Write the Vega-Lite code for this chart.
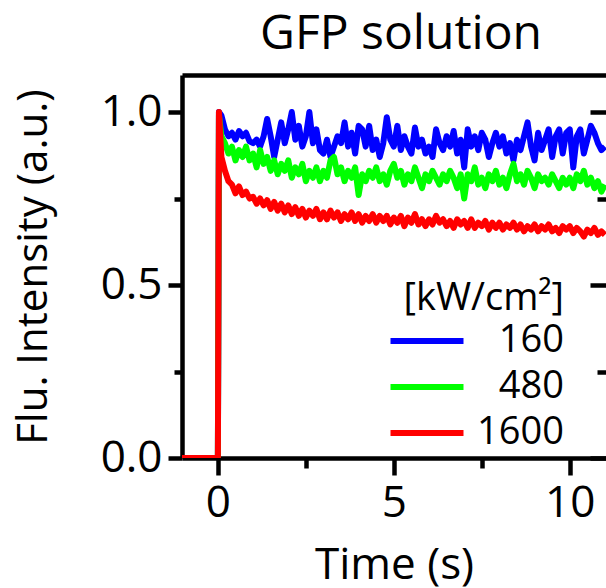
{
"$schema": "https://vega.github.io/schema/vega-lite/v6.json",
"width": 424, "height": 383,
"autosize": {"type": "none"},
"padding": {"left": 182, "top": 75, "right": 0, "bottom": 130},
"background": "white",
"title": {"text": "GFP solution", "fontSize": 48, "font": "Open Sans", "fontWeight": "normal", "color": "black", "anchor": "middle", "baseline": "alphabetic", "offset": 22, "dy": 44, "dx": 7},
"config": {"view": {"stroke": null}, "font": "Open Sans"},
"data": {"values": [
{"t":-1.1,"I":0,"P":"160"},{"t":0,"I":0,"P":"160"},{"t":0.03,"I":1.0,"P":"160"},
{"t":0.1,"I":0.99,"P":"160"},{"t":0.2,"I":0.95,"P":"160"},{"t":0.3,"I":0.93,"P":"160"},{"t":0.4,"I":0.94,"P":"160"},{"t":0.5,"I":0.92,"P":"160"},{"t":0.6,"I":0.945,"P":"160"},{"t":0.7,"I":0.93,"P":"160"},{"t":0.8,"I":0.94,"P":"160"},{"t":0.9,"I":0.915,"P":"160"},{"t":1.0,"I":0.91,"P":"160"},
{"t":1.1,"I":0.92,"P":"160"},{"t":1.2,"I":0.90,"P":"160"},{"t":1.3,"I":0.93,"P":"160"},{"t":1.4,"I":0.98,"P":"160"},{"t":1.5,"I":0.93,"P":"160"},{"t":1.6,"I":0.87,"P":"160"},{"t":1.7,"I":0.92,"P":"160"},{"t":1.8,"I":0.97,"P":"160"},{"t":1.9,"I":0.91,"P":"160"},{"t":2.0,"I":0.95,"P":"160"},
{"t":2.1,"I":1.0,"P":"160"},{"t":2.2,"I":0.92,"P":"160"},{"t":2.3,"I":0.96,"P":"160"},{"t":2.4,"I":0.90,"P":"160"},{"t":2.5,"I":0.93,"P":"160"},{"t":2.6,"I":1.0,"P":"160"},{"t":2.7,"I":0.91,"P":"160"},{"t":2.8,"I":0.95,"P":"160"},{"t":2.9,"I":0.89,"P":"160"},{"t":3.0,"I":0.88,"P":"160"},
{"t":3.1,"I":0.92,"P":"160"},{"t":3.2,"I":0.87,"P":"160"},{"t":3.3,"I":0.90,"P":"160"},{"t":3.4,"I":0.93,"P":"160"},{"t":3.5,"I":0.91,"P":"160"},{"t":3.6,"I":0.97,"P":"160"},{"t":3.7,"I":0.90,"P":"160"},{"t":3.8,"I":0.94,"P":"160"},{"t":3.9,"I":0.88,"P":"160"},{"t":4.0,"I":0.96,"P":"160"},
{"t":4.1,"I":0.95,"P":"160"},{"t":4.2,"I":0.90,"P":"160"},{"t":4.3,"I":0.96,"P":"160"},{"t":4.4,"I":0.89,"P":"160"},{"t":4.5,"I":0.92,"P":"160"},{"t":4.6,"I":0.87,"P":"160"},{"t":4.7,"I":0.91,"P":"160"},{"t":4.8,"I":0.985,"P":"160"},{"t":4.9,"I":0.92,"P":"160"},{"t":5.0,"I":0.90,"P":"160"},
{"t":5.1,"I":0.96,"P":"160"},{"t":5.2,"I":0.89,"P":"160"},{"t":5.3,"I":0.93,"P":"160"},{"t":5.4,"I":0.90,"P":"160"},{"t":5.5,"I":0.88,"P":"160"},{"t":5.6,"I":0.955,"P":"160"},{"t":5.7,"I":0.90,"P":"160"},{"t":5.8,"I":0.92,"P":"160"},{"t":5.9,"I":0.88,"P":"160"},{"t":6.0,"I":0.90,"P":"160"},
{"t":6.1,"I":0.87,"P":"160"},{"t":6.2,"I":0.95,"P":"160"},{"t":6.3,"I":0.91,"P":"160"},{"t":6.4,"I":0.89,"P":"160"},{"t":6.5,"I":0.93,"P":"160"},{"t":6.6,"I":0.90,"P":"160"},{"t":6.7,"I":0.945,"P":"160"},{"t":6.8,"I":0.88,"P":"160"},{"t":6.9,"I":0.92,"P":"160"},{"t":7.0,"I":0.84,"P":"160"},
{"t":7.1,"I":0.95,"P":"160"},{"t":7.2,"I":0.90,"P":"160"},{"t":7.3,"I":0.93,"P":"160"},{"t":7.4,"I":0.89,"P":"160"},{"t":7.5,"I":0.94,"P":"160"},{"t":7.6,"I":0.92,"P":"160"},{"t":7.7,"I":0.87,"P":"160"},{"t":7.8,"I":0.91,"P":"160"},{"t":7.9,"I":0.94,"P":"160"},{"t":8.0,"I":0.90,"P":"160"},
{"t":8.1,"I":0.93,"P":"160"},{"t":8.2,"I":0.88,"P":"160"},{"t":8.3,"I":0.91,"P":"160"},{"t":8.4,"I":0.86,"P":"160"},{"t":8.5,"I":0.92,"P":"160"},{"t":8.6,"I":0.89,"P":"160"},{"t":8.7,"I":0.93,"P":"160"},{"t":8.8,"I":0.97,"P":"160"},{"t":8.9,"I":0.90,"P":"160"},{"t":9.0,"I":0.86,"P":"160"},
{"t":9.1,"I":0.94,"P":"160"},{"t":9.2,"I":0.89,"P":"160"},{"t":9.3,"I":0.92,"P":"160"},{"t":9.4,"I":0.95,"P":"160"},{"t":9.5,"I":0.87,"P":"160"},{"t":9.6,"I":0.93,"P":"160"},{"t":9.7,"I":0.95,"P":"160"},{"t":9.8,"I":0.88,"P":"160"},{"t":9.9,"I":0.94,"P":"160"},{"t":10.0,"I":0.95,"P":"160"},
{"t":10.1,"I":0.84,"P":"160"},{"t":10.2,"I":0.93,"P":"160"},{"t":10.3,"I":0.95,"P":"160"},{"t":10.4,"I":0.88,"P":"160"},{"t":10.5,"I":0.92,"P":"160"},{"t":10.6,"I":0.96,"P":"160"},{"t":10.7,"I":0.94,"P":"160"},{"t":10.8,"I":0.91,"P":"160"},{"t":10.9,"I":0.89,"P":"160"},{"t":11.0,"I":0.90,"P":"160"},
{"t":-1.1,"I":0,"P":"480"},{"t":0,"I":0,"P":"480"},{"t":0.03,"I":0.99,"P":"480"},
{"t":0.1,"I":0.93,"P":"480"},{"t":0.2,"I":0.91,"P":"480"},{"t":0.3,"I":0.88,"P":"480"},{"t":0.4,"I":0.90,"P":"480"},{"t":0.5,"I":0.86,"P":"480"},{"t":0.6,"I":0.89,"P":"480"},{"t":0.7,"I":0.87,"P":"480"},{"t":0.8,"I":0.90,"P":"480"},{"t":0.9,"I":0.86,"P":"480"},{"t":1.0,"I":0.88,"P":"480"},
{"t":1.1,"I":0.84,"P":"480"},{"t":1.2,"I":0.89,"P":"480"},{"t":1.3,"I":0.85,"P":"480"},{"t":1.4,"I":0.87,"P":"480"},{"t":1.5,"I":0.83,"P":"480"},{"t":1.6,"I":0.86,"P":"480"},{"t":1.7,"I":0.82,"P":"480"},{"t":1.8,"I":0.85,"P":"480"},{"t":1.9,"I":0.83,"P":"480"},{"t":2.0,"I":0.86,"P":"480"},
{"t":2.1,"I":0.81,"P":"480"},{"t":2.2,"I":0.84,"P":"480"},{"t":2.3,"I":0.82,"P":"480"},{"t":2.4,"I":0.85,"P":"480"},{"t":2.5,"I":0.80,"P":"480"},{"t":2.6,"I":0.83,"P":"480"},{"t":2.7,"I":0.81,"P":"480"},{"t":2.8,"I":0.84,"P":"480"},{"t":2.9,"I":0.80,"P":"480"},{"t":3.0,"I":0.83,"P":"480"},
{"t":3.1,"I":0.81,"P":"480"},{"t":3.2,"I":0.86,"P":"480"},{"t":3.3,"I":0.87,"P":"480"},{"t":3.4,"I":0.82,"P":"480"},{"t":3.5,"I":0.84,"P":"480"},{"t":3.6,"I":0.80,"P":"480"},{"t":3.7,"I":0.83,"P":"480"},{"t":3.8,"I":0.81,"P":"480"},{"t":3.9,"I":0.84,"P":"480"},{"t":4.0,"I":0.76,"P":"480"},
{"t":4.1,"I":0.82,"P":"480"},{"t":4.2,"I":0.80,"P":"480"},{"t":4.3,"I":0.83,"P":"480"},{"t":4.4,"I":0.81,"P":"480"},{"t":4.5,"I":0.84,"P":"480"},{"t":4.6,"I":0.80,"P":"480"},{"t":4.7,"I":0.82,"P":"480"},{"t":4.8,"I":0.79,"P":"480"},{"t":4.9,"I":0.83,"P":"480"},{"t":5.0,"I":0.85,"P":"480"},
{"t":5.1,"I":0.81,"P":"480"},{"t":5.2,"I":0.83,"P":"480"},{"t":5.3,"I":0.79,"P":"480"},{"t":5.4,"I":0.82,"P":"480"},{"t":5.5,"I":0.80,"P":"480"},{"t":5.6,"I":0.84,"P":"480"},{"t":5.7,"I":0.81,"P":"480"},{"t":5.8,"I":0.78,"P":"480"},{"t":5.9,"I":0.82,"P":"480"},{"t":6.0,"I":0.80,"P":"480"},
{"t":6.1,"I":0.83,"P":"480"},{"t":6.2,"I":0.81,"P":"480"},{"t":6.3,"I":0.79,"P":"480"},{"t":6.4,"I":0.82,"P":"480"},{"t":6.5,"I":0.80,"P":"480"},{"t":6.6,"I":0.83,"P":"480"},{"t":6.7,"I":0.81,"P":"480"},{"t":6.8,"I":0.78,"P":"480"},{"t":6.9,"I":0.82,"P":"480"},{"t":7.0,"I":0.75,"P":"480"},
{"t":7.1,"I":0.82,"P":"480"},{"t":7.2,"I":0.80,"P":"480"},{"t":7.3,"I":0.84,"P":"480"},{"t":7.4,"I":0.79,"P":"480"},{"t":7.5,"I":0.81,"P":"480"},{"t":7.6,"I":0.78,"P":"480"},{"t":7.7,"I":0.82,"P":"480"},{"t":7.8,"I":0.80,"P":"480"},{"t":7.9,"I":0.83,"P":"480"},{"t":8.0,"I":0.79,"P":"480"},
{"t":8.1,"I":0.81,"P":"480"},{"t":8.2,"I":0.78,"P":"480"},{"t":8.3,"I":0.82,"P":"480"},{"t":8.4,"I":0.85,"P":"480"},{"t":8.5,"I":0.80,"P":"480"},{"t":8.6,"I":0.82,"P":"480"},{"t":8.7,"I":0.79,"P":"480"},{"t":8.8,"I":0.83,"P":"480"},{"t":8.9,"I":0.81,"P":"480"},{"t":9.0,"I":0.78,"P":"480"},
{"t":9.1,"I":0.82,"P":"480"},{"t":9.2,"I":0.80,"P":"480"},{"t":9.3,"I":0.81,"P":"480"},{"t":9.4,"I":0.79,"P":"480"},{"t":9.5,"I":0.82,"P":"480"},{"t":9.6,"I":0.80,"P":"480"},{"t":9.7,"I":0.78,"P":"480"},{"t":9.8,"I":0.81,"P":"480"},{"t":9.9,"I":0.79,"P":"480"},{"t":10.0,"I":0.81,"P":"480"},
{"t":10.1,"I":0.78,"P":"480"},{"t":10.2,"I":0.82,"P":"480"},{"t":10.3,"I":0.80,"P":"480"},{"t":10.4,"I":0.83,"P":"480"},{"t":10.5,"I":0.79,"P":"480"},{"t":10.6,"I":0.81,"P":"480"},{"t":10.7,"I":0.78,"P":"480"},{"t":10.8,"I":0.80,"P":"480"},{"t":10.9,"I":0.77,"P":"480"},{"t":11.0,"I":0.79,"P":"480"},
{"t":-1.1,"I":0,"P":"1600"},{"t":0,"I":0,"P":"1600"},{"t":0.03,"I":1.0,"P":"1600"},
{"t":0.1,"I":0.87,"P":"1600"},{"t":0.2,"I":0.83,"P":"1600"},{"t":0.3,"I":0.80,"P":"1600"},{"t":0.4,"I":0.79,"P":"1600"},{"t":0.5,"I":0.765,"P":"1600"},{"t":0.6,"I":0.785,"P":"1600"},{"t":0.7,"I":0.76,"P":"1600"},{"t":0.8,"I":0.77,"P":"1600"},{"t":0.9,"I":0.75,"P":"1600"},{"t":1.0,"I":0.755,"P":"1600"},
{"t":1.1,"I":0.735,"P":"1600"},{"t":1.2,"I":0.75,"P":"1600"},{"t":1.3,"I":0.73,"P":"1600"},{"t":1.4,"I":0.745,"P":"1600"},{"t":1.5,"I":0.72,"P":"1600"},{"t":1.6,"I":0.74,"P":"1600"},{"t":1.7,"I":0.715,"P":"1600"},{"t":1.8,"I":0.735,"P":"1600"},{"t":1.9,"I":0.71,"P":"1600"},{"t":2.0,"I":0.73,"P":"1600"},
{"t":2.1,"I":0.705,"P":"1600"},{"t":2.2,"I":0.725,"P":"1600"},{"t":2.3,"I":0.70,"P":"1600"},{"t":2.4,"I":0.72,"P":"1600"},{"t":2.5,"I":0.695,"P":"1600"},{"t":2.6,"I":0.715,"P":"1600"},{"t":2.7,"I":0.70,"P":"1600"},{"t":2.8,"I":0.72,"P":"1600"},{"t":2.9,"I":0.69,"P":"1600"},{"t":3.0,"I":0.71,"P":"1600"},
{"t":3.1,"I":0.69,"P":"1600"},{"t":3.2,"I":0.715,"P":"1600"},{"t":3.3,"I":0.695,"P":"1600"},{"t":3.4,"I":0.71,"P":"1600"},{"t":3.5,"I":0.685,"P":"1600"},{"t":3.6,"I":0.705,"P":"1600"},{"t":3.7,"I":0.69,"P":"1600"},{"t":3.8,"I":0.71,"P":"1600"},{"t":3.9,"I":0.685,"P":"1600"},{"t":4.0,"I":0.705,"P":"1600"},
{"t":4.1,"I":0.68,"P":"1600"},{"t":4.2,"I":0.70,"P":"1600"},{"t":4.3,"I":0.685,"P":"1600"},{"t":4.4,"I":0.705,"P":"1600"},{"t":4.5,"I":0.68,"P":"1600"},{"t":4.6,"I":0.70,"P":"1600"},{"t":4.7,"I":0.685,"P":"1600"},{"t":4.8,"I":0.70,"P":"1600"},{"t":4.9,"I":0.675,"P":"1600"},{"t":5.0,"I":0.695,"P":"1600"},
{"t":5.1,"I":0.68,"P":"1600"},{"t":5.2,"I":0.70,"P":"1600"},{"t":5.3,"I":0.67,"P":"1600"},{"t":5.4,"I":0.695,"P":"1600"},{"t":5.5,"I":0.68,"P":"1600"},{"t":5.6,"I":0.705,"P":"1600"},{"t":5.7,"I":0.675,"P":"1600"},{"t":5.8,"I":0.69,"P":"1600"},{"t":5.9,"I":0.67,"P":"1600"},{"t":6.0,"I":0.69,"P":"1600"},
{"t":6.1,"I":0.675,"P":"1600"},{"t":6.2,"I":0.70,"P":"1600"},{"t":6.3,"I":0.68,"P":"1600"},{"t":6.4,"I":0.69,"P":"1600"},{"t":6.5,"I":0.67,"P":"1600"},{"t":6.6,"I":0.685,"P":"1600"},{"t":6.7,"I":0.665,"P":"1600"},{"t":6.8,"I":0.69,"P":"1600"},{"t":6.9,"I":0.675,"P":"1600"},{"t":7.0,"I":0.685,"P":"1600"},
{"t":7.1,"I":0.665,"P":"1600"},{"t":7.2,"I":0.69,"P":"1600"},{"t":7.3,"I":0.665,"P":"1600"},{"t":7.4,"I":0.68,"P":"1600"},{"t":7.5,"I":0.67,"P":"1600"},{"t":7.6,"I":0.685,"P":"1600"},{"t":7.7,"I":0.66,"P":"1600"},{"t":7.8,"I":0.68,"P":"1600"},{"t":7.9,"I":0.665,"P":"1600"},{"t":8.0,"I":0.68,"P":"1600"},
{"t":8.1,"I":0.66,"P":"1600"},{"t":8.2,"I":0.675,"P":"1600"},{"t":8.3,"I":0.665,"P":"1600"},{"t":8.4,"I":0.68,"P":"1600"},{"t":8.5,"I":0.66,"P":"1600"},{"t":8.6,"I":0.675,"P":"1600"},{"t":8.7,"I":0.655,"P":"1600"},{"t":8.8,"I":0.67,"P":"1600"},{"t":8.9,"I":0.66,"P":"1600"},{"t":9.0,"I":0.675,"P":"1600"},
{"t":9.1,"I":0.655,"P":"1600"},{"t":9.2,"I":0.67,"P":"1600"},{"t":9.3,"I":0.66,"P":"1600"},{"t":9.4,"I":0.675,"P":"1600"},{"t":9.5,"I":0.655,"P":"1600"},{"t":9.6,"I":0.665,"P":"1600"},{"t":9.7,"I":0.65,"P":"1600"},{"t":9.8,"I":0.67,"P":"1600"},{"t":9.9,"I":0.66,"P":"1600"},{"t":10.0,"I":0.67,"P":"1600"},
{"t":10.1,"I":0.65,"P":"1600"},{"t":10.2,"I":0.665,"P":"1600"},{"t":10.3,"I":0.655,"P":"1600"},{"t":10.4,"I":0.64,"P":"1600"},{"t":10.5,"I":0.66,"P":"1600"},{"t":10.6,"I":0.65,"P":"1600"},{"t":10.7,"I":0.665,"P":"1600"},{"t":10.8,"I":0.645,"P":"1600"},{"t":10.9,"I":0.655,"P":"1600"},{"t":11.0,"I":0.645,"P":"1600"}
]},
"layer": [
{
"mark": {"type": "line", "strokeWidth": 6, "clip": true, "strokeJoin": "round"},
"encoding": {
"x": {"field": "t", "type": "quantitative", "scale": {"domain": [-1.02, 11.03], "nice": false, "zero": false},
  "axis": {"orient": "bottom", "values": [0, 2.5, 5, 7.5, 10], "labelExpr": "datum.value % 5 == 0 ? format(datum.value, 'd') : ''",
   "grid": false, "domainColor": "black", "domainWidth": 4.5, "tickColor": "black", "tickWidth": 4.5,
   "tickSize": {"condition": {"test": "datum.value % 5 == 0", "value": 17}, "value": 10},
   "labelFontSize": 44, "labelColor": "black", "labelPadding": 6, "labelFlush": false, "labelOverlap": false,
   "title": "Time (s)", "titleFontSize": 44, "titleFontWeight": "normal", "titleColor": "black", "titlePadding": 18}},
"y": {"field": "I", "type": "quantitative", "scale": {"domain": [0, 1.107], "nice": false},
  "axis": {"orient": "left", "values": [0, 0.25, 0.5, 0.75, 1], "labelExpr": "datum.value % 0.5 == 0 ? format(datum.value, '.1f') : ''",
   "grid": false, "domainColor": "black", "domainWidth": 4.5, "tickColor": "black", "tickWidth": 4.5,
   "tickSize": {"condition": {"test": "datum.value % 0.5 == 0", "value": 14}, "value": 8},
   "labelFontSize": 44, "labelColor": "black", "labelPadding": 6, "labelFlush": false, "labelOverlap": false,
   "title": "Flu. Intensity (a.u.)", "titleFontSize": 42, "titleFontWeight": "normal", "titleColor": "black", "titlePadding": 45}},
"color": {"field": "P", "type": "nominal", "sort": ["160", "480", "1600"],
  "scale": {"domain": ["160", "480", "1600"], "range": ["#0000ff", "#00ff00", "#ff0000"]},
  "legend": {"orient": "none", "legendX": 222, "legendY": 205, "title": "[kW/cm²]", "titleFontSize": 38, "titleFontWeight": "normal", "titleColor": "black", "titlePadding": 4, "titleAnchor": "end",
   "labelFontSize": 38, "labelColor": "black", "labelAlign": "right", "labelOffset": 118, "labelLimit": 400,
   "symbolType": "M-4,0H4", "symbolSize": 333, "symbolStrokeWidth": 6, "rowPadding": 8, "padding": 0}}
}
},
{
"transform": [{"filter": "datum.t > 100"}],
"mark": {"type": "line", "opacity": 0},
"encoding": {
"x": {"field": "t", "type": "quantitative", "scale": {"domain": [-1.02, 11.03], "nice": false, "zero": false},
  "axis": {"orient": "top", "domain": true, "domainColor": "black", "domainWidth": 4.5, "ticks": false, "labels": false, "grid": false, "title": null, "minExtent": 0, "maxExtent": 0}},
"y": {"field": "I", "type": "quantitative", "scale": {"domain": [0, 1.107], "nice": false},
  "axis": {"orient": "right", "domain": false, "values": [0, 0.25, 0.5, 0.75, 1], "labels": false, "grid": false, "title": null, "minExtent": 0, "maxExtent": 0,
   "tickColor": "black", "tickWidth": 4.5, "tickSize": {"condition": {"test": "datum.value % 0.5 == 0", "value": -16}, "value": -9}}}
}
}
],
"resolve": {"axis": {"x": "independent", "y": "independent"}}
}
